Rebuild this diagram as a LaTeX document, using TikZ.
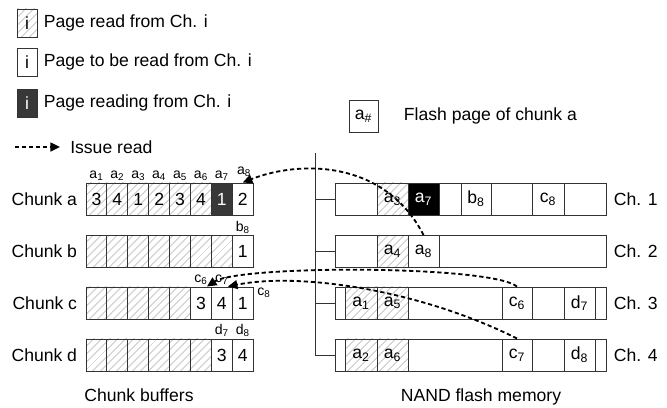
\documentclass[tikz,border=0pt]{standalone}
\usepackage{fontspec}
\setmainfont{Liberation Sans}
\usetikzlibrary{positioning, arrows.meta, patterns.meta}

\newcommand{\pg}[2]{#1\textsubscript{#2}}

\begin{document}
\begin{tikzpicture}[
  x=0.025cm, y=-0.025cm,
  every node/.style={font=\fontsize{12.5}{15}\selectfont},
  cell/.style={
    rectangle, draw=black!80, line width=0.7pt,
    minimum height=0.8cm, inner sep=0pt,
  },
  bcell/.style={cell, minimum width=0.5225cm},
  read/.style={pattern={Lines[angle=45,distance=4pt,line width=0.45pt]}, pattern color=black!45},
  todo/.style={fill=white},
  busy/.style={fill=black!78, text=white},
  now/.style={fill=black, text=white},
  tag/.style={font=\fontsize{10}{12}\selectfont, inner sep=1pt},
  bus/.style={draw=black!80, line width=0.7pt},
  issue/.style={draw=black, line width=1.3pt, dash pattern=on 3pt off 2pt,
    -{Triangle[length=2.4mm,width=2.2mm]}},
]
  \useasboundingbox (0,0) rectangle (667,408);

  % legend
  \node[cell, read, minimum width=0.5cm, minimum height=0.7cm] (lg1) at (27,23) {i};
  \node[anchor=west] (lgt1) at (39,23) {Page read from Ch. i};
  \node[cell, todo, minimum width=0.5cm, minimum height=0.7cm] (lg2) at (27,62) {i};
  \node[anchor=west] (lgt2) at (39,62) {Page to be read from Ch. i};
  \node[cell, busy, minimum width=0.5cm, minimum height=0.7cm] (lg3) at (27,103) {i};
  \node[anchor=west] (lgt3) at (39,103) {Page reading from Ch. i};
  \coordinate (lgs) at (15,147);
  \node[anchor=west, inner xsep=0.25cm] (lgt4) at (60,147) {Issue read};
  \draw[issue] (lgs) -- (lgt4.west);
  \node[cell, minimum width=0.725cm] (lgf) at (363.5,116) {\pg{a}{\#}};
  \node[anchor=west] (lgft) at (399,116) {Flash page of chunk a};

  % chunk buffers
  \foreach \k/\n/\s in {1/3/read,2/4/read,3/1/read,4/2/read,5/3/read,6/4/read,7/1/busy,8/2/todo}
    \node[bcell,\s] (a\k) at ({75.55+20.9*\k},199) {\n};
  \foreach \k/\n/\s in {1//read,2//read,3//read,4//read,5//read,6//read,7//read,8/1/todo}
    \node[bcell,\s] (b\k) at ({75.55+20.9*\k},251.5) {\n};
  \foreach \k/\n/\s in {1//read,2//read,3//read,4//read,5//read,6/3/todo,7/4/todo,8/1/todo}
    \node[bcell,\s] (c\k) at ({75.55+20.9*\k},303) {\n};
  \foreach \k/\n/\s in {1//read,2//read,3//read,4//read,5//read,6//read,7/3/todo,8/4/todo}
    \node[bcell,\s] (d\k) at ({75.55+20.9*\k},355) {\n};

  \node[anchor=east] (cha) at (82,199) {Chunk a};
  \node[anchor=east] (chb) at (82,251.5) {Chunk b};
  \node[anchor=east] (chc) at (82,303) {Chunk c};
  \node[anchor=east] (chd) at (82,355) {Chunk d};

  \foreach \k in {1,...,7}
    \node[tag, above=0pt of a\k] (ta\k) {\pg{a}{\k}};
  \node[tag] (ta8) at (244,172) {\pg{a}{8}};
  \node[tag, above=0pt of b8] (tb8) {\pg{b}{8}};
  \node[tag, above=0pt of c6] (tc6) {\pg{c}{6}};
  \node[tag, above=0pt of c7] (tc7) {\pg{c}{7}};
  \node[tag] (tc8) at (264,293) {\pg{c}{8}};
  \node[tag, above=0pt of d7] (td7) {\pg{d}{7}};
  \node[tag, above=0pt of d8] (td8) {\pg{d}{8}};

  % NAND flash channels
  \foreach \l/\r/\t/\s/\nm in {335/377//todo/ch1, 377/408/\pg{a}{3}/read/fa3,
      408/439/\pg{a}{7}/now/fa7, 439/461//todo/f1x, 461/491/\pg{b}{8}/todo/fb8,
      491/532//todo/f1y, 532/564/\pg{c}{8}/todo/fc8, 564/606//todo/f1z}
    \node[cell,\s,minimum width={(\r-\l)*0.025cm}] (\nm) at ({(\l+\r)/2},199) {\t};
  \foreach \l/\r/\t/\s/\nm in {335/377//todo/ch2, 377/408/\pg{a}{4}/read/fa4,
      408/439/\pg{a}{8}/todo/fa8, 439/606//todo/f2x}
    \node[cell,\s,minimum width={(\r-\l)*0.025cm}] (\nm) at ({(\l+\r)/2},251.5) {\t};
  \foreach \l/\r/\t/\s/\nm in {335/345//todo/ch3, 345/377/\pg{a}{1}/read/fa1,
      377/408/\pg{a}{5}/read/fa5, 408/502//todo/f3x, 502/532/\pg{c}{6}/todo/fc6,
      532/564//todo/f3y, 564/595/\pg{d}{7}/todo/fd7, 595/606//todo/f3z}
    \node[cell,\s,minimum width={(\r-\l)*0.025cm}] (\nm) at ({(\l+\r)/2},303) {\t};
  \foreach \l/\r/\t/\s/\nm in {335/345//todo/ch4, 345/377/\pg{a}{2}/read/fa2,
      377/408/\pg{a}{6}/read/fa6, 408/502//todo/f4x, 502/532/\pg{c}{7}/todo/fc7,
      532/564//todo/f4y, 564/595/\pg{d}{8}/todo/fd8, 595/606//todo/f4z}
    \node[cell,\s,minimum width={(\r-\l)*0.025cm}] (\nm) at ({(\l+\r)/2},355) {\t};

  \node[anchor=west] (lch1) at (609,199) {Ch. 1};
  \node[anchor=west] (lch2) at (609,251.5) {Ch. 2};
  \node[anchor=west] (lch3) at (609,303) {Ch. 3};
  \node[anchor=west] (lch4) at (609,355) {Ch. 4};

  % bus
  \coordinate (bustop) at (315,153);
  \draw[bus] (bustop) -- (bustop |- ch4.west) -- (ch4.west);
  \foreach \i in {1,2,3}
    \draw[bus] (bustop |- ch\i.west) -- (ch\i.west);

  % reads in flight
  \draw[issue] (fa8.north) .. controls (385,160) and (300,160) .. (a8.north);
  \draw[issue] (fc6.north) .. controls (490,265) and (240,265) .. ([xshift=0.15cm]c6.north);
  \draw[issue] (fc7.north) .. controls (420,290) and (300,272) .. ([xshift=0.15cm]c7.north);

  \node (capb) at (139,395) {Chunk buffers};
  \node (capf) at (481,397) {NAND flash memory};
\end{tikzpicture}
\end{document}
